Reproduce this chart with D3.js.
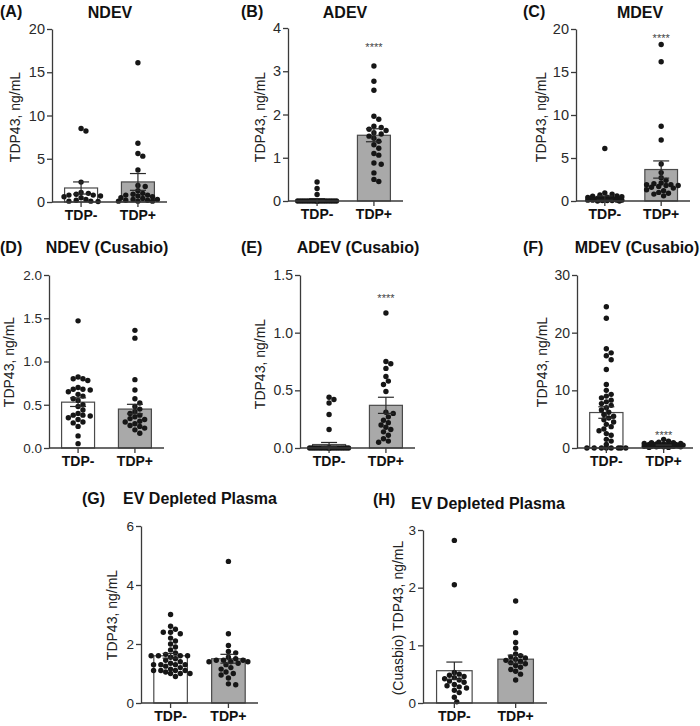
<!DOCTYPE html>
<html><head><meta charset="utf-8">
<script src="https://cdn.jsdelivr.net/npm/d3@7"></script>
<style>body{margin:0;background:#fff}svg{display:block}text{font-family:"Liberation Sans",Arial,sans-serif}</style>
</head><body>
<svg id="c" width="700" height="726"></svg>
<script>
// ---------- data ----------
const categories = ["TDP-", "TDP+"];

const A_neg = [8.5, 8.2, 2.3, 1.1, 1.0, 0.9, 0.8, 0.8, 0.7, 0.6, 0.5, 0.3, 0.2, 0.1, 0.1, 0.05];
const A_pos = [16.1, 6.8, 5.6, 5.3, 3.7, 1.9, 1.8, 1.3, 1.0, 0.9, 0.8, 0.8, 0.7, 0.6, 0.5, 0.4, 0.3, 0.3, 0.2, 0.2, 0.1, 0.1, 0.1];
const A_mean = [1.62, 2.32], A_sem = [0.70, 0.97];

const B_neg = [0.44, 0.29, 0.15, 0, 0, 0, 0, 0, 0, 0, 0, 0, 0, 0, 0, 0, 0, 0, 0, 0, 0, 0];
const B_pos = [3.12, 2.77, 2.56, 1.96, 1.89, 1.73, 1.70, 1.66, 1.63, 1.58, 1.55, 1.50, 1.45, 1.38, 1.30, 1.22, 1.10, 1.06, 0.88, 0.85, 0.65, 0.50, 0.45];
const B_mean = [0.03, 1.52], B_sem = [0.025, 0.15];

const C_neg = [6.1, 0.95, 0.8, 0.7, 0.6, 0.55, 0.5, 0.45, 0.4, 0.35, 0.3, 0.3, 0.25, 0.25, 0.2, 0.2, 0.2, 0.15, 0.15, 0.1, 0.1, 0.1, 0.1, 0.05, 0.05, 0.05, 0, 0];
const C_pos = [18.2, 16.2, 8.7, 7.1, 4.3, 3.3, 2.7, 2.4, 2.1, 2.0, 1.9, 1.9, 1.8, 1.8, 1.7, 1.6, 1.5, 1.3, 1.2, 1.0, 0.9, 0.8, 0.6];
const C_mean = [0.35, 3.66], C_sem = [0.24, 1.0];

const D_neg = [1.47, 0.82, 0.80, 0.80, 0.78, 0.70, 0.68, 0.68, 0.67, 0.65, 0.62, 0.60, 0.57, 0.55, 0.50, 0.48, 0.44, 0.40, 0.38, 0.38, 0.37, 0.35, 0.33, 0.30, 0.29, 0.25, 0.14, 0.05];
const D_pos = [1.36, 1.27, 0.79, 0.67, 0.57, 0.52, 0.48, 0.45, 0.42, 0.40, 0.38, 0.36, 0.34, 0.33, 0.31, 0.30, 0.28, 0.26, 0.25, 0.23, 0.21, 0.17];
const D_mean = [0.53, 0.45], D_sem = [0.05, 0.055];

const E_neg = [0.44, 0.42, 0.39, 0.29, 0.16, 0, 0, 0, 0, 0, 0, 0, 0, 0, 0, 0, 0, 0, 0, 0, 0, 0, 0, 0];
const E_pos = [1.17, 0.75, 0.73, 0.69, 0.62, 0.58, 0.55, 0.49, 0.31, 0.30, 0.27, 0.24, 0.22, 0.20, 0.18, 0.16, 0.14, 0.11, 0.08, 0.06, 0.05];
const E_mean = [0.03, 0.37], E_sem = [0.018, 0.07];

const F_neg = [24.5, 22.5, 17.2, 16.5, 16.0, 15.3, 13.6, 11.0, 10.0, 9.3, 9.0, 8.7, 8.3, 8.0, 7.7, 7.4, 7.0, 6.6, 6.2, 5.8, 5.5, 5.2, 4.9, 4.5, 4.1, 3.7, 3.3, 3.0, 2.5, 2.2, 1.5, 1.2, 0.6, 0, 0, 0, 0, 0, 0, 0, 0];
const F_pos = [1.5, 1.2, 1.0, 0.9, 0.9, 0.8, 0.8, 0.7, 0.7, 0.6, 0.6, 0.6, 0.5, 0.5, 0.5, 0.5, 0.4, 0.4, 0.4, 0.3, 0.3, 0.3, 0.3, 0.2, 0.2, 0.2, 0.1, 0.1];
const F_mean = [6.15, 0.5], F_sem = [1.0, 0.07];

const G_neg = [3.0, 2.6, 2.5, 2.4, 2.4, 2.35, 2.2, 2.1, 2.0, 1.9, 1.8, 1.7, 1.65, 1.6, 1.6, 1.6, 1.6, 1.55, 1.5, 1.45, 1.4, 1.35, 1.3, 1.3, 1.3, 1.3, 1.25, 1.2, 1.15, 1.1, 1.1, 1.1, 1.1, 1.05, 1.0, 1.0, 1.0, 0.9];
const G_pos = [4.8, 2.35, 1.95, 1.75, 1.7, 1.55, 1.5, 1.45, 1.45, 1.45, 1.4, 1.4, 1.4, 1.35, 1.3, 1.2, 1.15, 1.05, 1.0, 0.95, 0.85, 0.65, 0.62];
const G_mean = [1.6, 1.5], G_sem = [0.08, 0.15];

const H_neg = [2.82, 2.05, 0.53, 0.50, 0.48, 0.46, 0.44, 0.42, 0.40, 0.38, 0.36, 0.32, 0.30, 0.28, 0.26, 0.22, 0.18, 0.10, 0.02];
const H_pos = [1.77, 1.22, 1.05, 0.95, 0.85, 0.82, 0.80, 0.78, 0.76, 0.74, 0.72, 0.70, 0.68, 0.65, 0.62, 0.58, 0.55, 0.50, 0.40];
const H_mean = [0.56, 0.76], H_sem = [0.15, 0.07];

const A_ticks = [0, 5, 10, 15, 20];
const B_ticks = [0, 1, 2, 3, 4];
const C_ticks = [0, 5, 10, 15, 20];
const D_ticks = [0, 0.5, 1.0, 1.5, 2.0];
const E_ticks = [0, 0.5, 1.0, 1.5];
const F_ticks = [0, 10, 20, 30];
const G_ticks = [0, 2, 4, 6];
const H_ticks = [0, 1, 2, 3];

const titles = ["NDEV", "ADEV", "MDEV", "NDEV (Cusabio)", "ADEV (Cusabio)", "MDEV (Cusabio)", "EV Depleted Plasma", "EV Depleted Plasma"];
const letters = ["(A)", "(B)", "(C)", "(D)", "(E)", "(F)", "(G)", "(H)"];
const yLabels = ["TDP43, ng/mL", "TDP43, ng/mL", "TDP43, ng/mL", "TDP43, ng/mL", "TDP43, ng/mL", "TDP43, ng/mL", "TDP43, ng/mL", "(Cuasbio) TDP43, ng/mL"];
const stars = [null, 1, 1, null, 1, 1, null, null];   // index of group with "****"
const starLevel = [null, 3.55, 18.9, null, 1.3, 2.2, null, null];

// ---------- layout ----------
const panels = [
  {neg:A_neg,pos:A_pos,mean:A_mean,sem:A_sem,ticks:A_ticks,fmt:d3.format("d"),fs:14.5,ax:52,x1:167,y0:202,yT:29,lx:0,ly:17,tx:110,ty:18,ylx:15,yly:117},
  {neg:B_neg,pos:B_pos,mean:B_mean,sem:B_sem,ticks:B_ticks,fmt:d3.format("d"),fs:14.5,ax:288,x1:403,y0:201,yT:28,lx:241,ly:17,tx:345,ty:18,ylx:260,yly:117},
  {neg:C_neg,pos:C_pos,mean:C_mean,sem:C_sem,ticks:C_ticks,fmt:d3.format("d"),fs:14.5,ax:576,x1:690,y0:201,yT:29,lx:523,ly:17,tx:640,ty:18,ylx:541,yly:117},
  {neg:D_neg,pos:D_pos,mean:D_mean,sem:D_sem,ticks:D_ticks,fmt:d3.format(".1f"),fs:13.5,ax:49,x1:164,y0:448,yT:275,lx:0,ly:253,tx:107,ty:253,ylx:9,yly:362},
  {neg:E_neg,pos:E_pos,mean:E_mean,sem:E_sem,ticks:E_ticks,fmt:d3.format(".1f"),fs:14,ax:300,x1:415,y0:448,yT:275,lx:241,ly:253,tx:358,ty:253,ylx:260,yly:364},
  {neg:F_neg,pos:F_pos,mean:F_mean,sem:F_sem,ticks:F_ticks,fmt:d3.format("d"),fs:14,ax:577,x1:693,y0:448,yT:275,lx:523,ly:253,tx:637,ty:253,ylx:542,yly:362},
  {neg:G_neg,pos:G_pos,mean:G_mean,sem:G_sem,ticks:G_ticks,fmt:d3.format("d"),fs:13.5,ax:141,x1:258,y0:703,yT:526,lx:82,ly:504,tx:200,ty:504,ylx:112,yly:615},
  {neg:H_neg,pos:H_pos,mean:H_mean,sem:H_sem,ticks:H_ticks,fmt:d3.format("d"),fs:13.5,ax:423,x1:547,y0:703,yT:530,lx:373,ly:505,tx:488,ty:509,ylx:398,yly:618}
];

const svg = d3.select("#c");
const R = 2.7;
const AXC = "#3a3a3a";

function swarm(vals, y, cx, maxHalf) {
  const pts = vals.map(v => ({v, y: y(v)})).sort((a, b) => b.v - a.v);
  const placed = [];
  const step = R * 0.9, minD = R * 1.9;
  const offs = [0];
  for (let k = 1; k * step <= maxHalf; k++) { offs.push(k * step, -k * step); }
  for (const p of pts) {
    let best = null, bestD = -1;
    for (const o of offs) {
      let md = Infinity;
      for (const q of placed) {
        const d = Math.hypot(cx + o - q.x, p.y - q.y);
        if (d < md) md = d;
      }
      if (md >= minD) { best = o; bestD = md; break; }
      if (md > bestD) { bestD = md; best = o; }
    }
    p.x = cx + best;
    placed.push(p);
  }
  return placed;
}

panels.forEach((P, i) => {
  const g = svg.append("g");
  const max = P.ticks[P.ticks.length - 1];
  const y = d3.scaleLinear().domain([0, max]).range([P.y0, P.yT]);
  const gap = (P.x1 - P.ax);
  const x = d3.scaleBand().domain(categories).range([P.ax + gap * 0.06, P.x1 - gap * 0.06]).paddingInner(0.42).paddingOuter(0.1);
  const bw = x.bandwidth();

  // bars
  categories.forEach((c, j) => {
    g.append("rect")
      .attr("x", x(c)).attr("width", bw)
      .attr("y", y(P.mean[j])).attr("height", Math.max(0, y(0) - y(P.mean[j])))
      .attr("fill", j === 0 ? "#ffffff" : "#a9a9a9")
      .attr("stroke", "#4a4a4a").attr("stroke-width", 1.2);
  });

  // dots
  [P.neg, P.pos].forEach((vals, j) => {
    const cx = x(categories[j]) + bw / 2;
    const pts = swarm(vals, y, cx, bw / 2 + 3);
    g.selectAll(null).data(pts).enter().append("circle")
      .attr("cx", d => d.x).attr("cy", d => d.y).attr("r", R).attr("fill", "#161616");
  });

  // error bars
  categories.forEach((c, j) => {
    const cx = x(c) + bw / 2;
    const hi = y(P.mean[j] + P.sem[j]), lo = y(Math.max(0, P.mean[j] - P.sem[j]));
    g.append("line").attr("x1", cx).attr("x2", cx).attr("y1", hi).attr("y2", lo).attr("stroke", "#2a2a2a").attr("stroke-width", 1.2);
    [hi, lo].forEach(yy => g.append("line").attr("x1", cx - 8).attr("x2", cx + 8).attr("y1", yy).attr("y2", yy).attr("stroke", "#2a2a2a").attr("stroke-width", 1.2));
  });

  // y axis
  const ya = g.append("g").attr("transform", `translate(${P.ax},0)`)
    .call(d3.axisLeft(y).tickValues(P.ticks).tickFormat(P.fmt).tickSize(5).tickSizeOuter(0));
  ya.select(".domain").attr("stroke", AXC).attr("stroke-width", 1.3);
  ya.selectAll(".tick line").attr("stroke", AXC).attr("stroke-width", 1.3);
  ya.selectAll(".tick text").attr("font-size", P.fs).attr("fill", "#2a2a2a").attr("x", -7).style("font-family", "Liberation Sans, Arial, sans-serif");

  // x axis
  const xa = g.append("g").attr("transform", `translate(0,${P.y0})`)
    .call(d3.axisBottom(x).tickSize(5).tickSizeOuter(0));
  xa.select(".domain").attr("d", `M${P.ax},0H${P.x1}`).attr("stroke", AXC).attr("stroke-width", 1.3);
  xa.selectAll(".tick line").attr("stroke", AXC).attr("stroke-width", 1.3);
  xa.selectAll(".tick text").attr("font-size", 14).attr("font-weight", "bold").attr("fill", "#111").attr("y", 8)
    .style("font-family", "Liberation Sans, Arial, sans-serif");

  // titles
  g.append("text").attr("x", P.tx).attr("y", P.ty).attr("text-anchor", "middle")
    .attr("font-size", 16).attr("font-weight", "bold").attr("fill", "#111").text(titles[i]);
  g.append("text").attr("x", P.lx).attr("y", P.ly).attr("font-size", 16).attr("font-weight", "bold").attr("fill", "#111").text(letters[i]);

  // y label
  g.append("text").attr("transform", `translate(${P.ylx},${P.yly}) rotate(-90)`)
    .attr("text-anchor", "middle").attr("dominant-baseline", "central")
    .attr("font-size", 14).attr("fill", "#222").text(yLabels[i]);

  // significance
  if (stars[i] !== null) {
    const cx = x(categories[stars[i]]) + bw / 2;
    g.append("text").attr("x", cx).attr("y", y(starLevel[i]) + 4).attr("text-anchor", "middle")
      .attr("font-size", 11).attr("fill", "#444").text("****");
  }
});
</script>
</body></html>
